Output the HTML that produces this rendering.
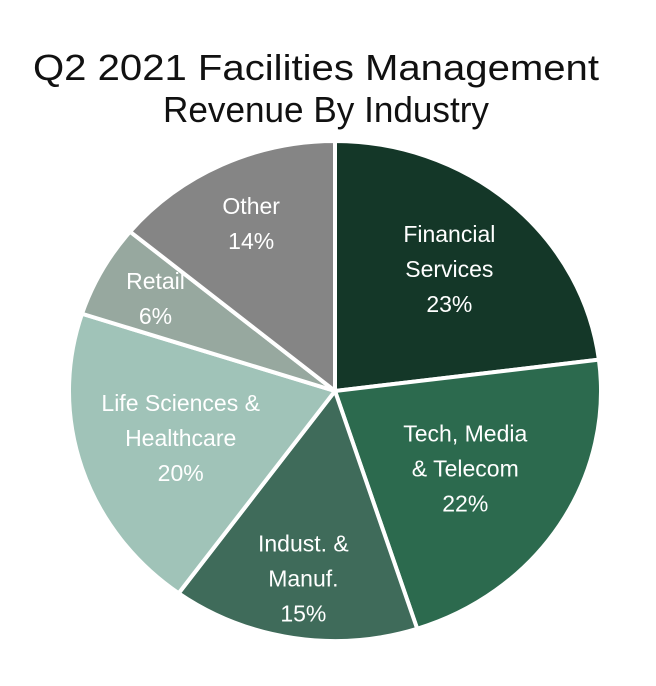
<!DOCTYPE html>
<html><head><meta charset="utf-8"><style>
html,body{margin:0;padding:0;background:#fff;width:656px;height:686px;overflow:hidden}
svg{display:block}
text{font-family:"Liberation Sans",sans-serif}
</style></head><body>
<svg id="chart" width="656" height="686" viewBox="0 0 656 686">
<text x="316" y="80" text-anchor="middle" font-size="36" fill="#111" textLength="566" lengthAdjust="spacingAndGlyphs">Q2 2021 Facilities Management</text>
<text x="326" y="122" text-anchor="middle" font-size="36" fill="#111" textLength="326" lengthAdjust="spacingAndGlyphs">Revenue By Industry</text>
<g id="slices"></g>
<g id="labels"></g>
</svg>
<script>
const categories = ["Financial Services","Tech, Media & Telecom","Indust. & Manuf.","Life Sciences & Healthcare","Retail","Other"];
const values = [23,22,15,20,6,14];
const nameLines = [["Financial","Services"],["Tech, Media","& Telecom"],["Indust. &","Manuf."],["Life Sciences &","Healthcare"],["Retail"],["Other"]];
const colors = ["#143728","#2c6a4e","#3f6b5a","#a0c3b8","#97a89f","#858585"];
const cx=335, cy=391, rx=266, ry=250;
const labelR = [0.65,0.58,0.76,0.61,0.77,0.74];
const ns="http://www.w3.org/2000/svg";
const total = values.reduce((a,b)=>a+b,0);
const gS=document.getElementById('slices'), gL=document.getElementById('labels');
function pt(a,f){return [cx+rx*f*Math.sin(a), cy-ry*f*Math.cos(a)];}
let acc=0;
values.forEach((v,i)=>{
  const a0=acc/total*2*Math.PI; acc+=v; const a1=acc/total*2*Math.PI;
  const p0=pt(a0,1), p1=pt(a1,1);
  const path=document.createElementNS(ns,'path');
  path.setAttribute('d',`M${cx},${cy}L${p0[0]},${p0[1]}A${rx},${ry} 0 ${a1-a0>Math.PI?1:0} 1 ${p1[0]},${p1[1]}Z`);
  path.setAttribute('fill',colors[i]); path.setAttribute('stroke','#fff'); path.setAttribute('stroke-width','4');
  
  
  gS.appendChild(path);
  const am=(a0+a1)/2, lp=pt(am,labelR[i]);
  const lines=nameLines[i].concat([Math.round(v/total*100)+'%']); const lh=35;
  const t=document.createElementNS(ns,'text');
  
  
  t.setAttribute('text-anchor','middle'); t.setAttribute('fill','#fff'); t.setAttribute('font-size','23');
  lines.forEach((s,j)=>{
    const ts=document.createElementNS(ns,'tspan');
    ts.setAttribute('x',lp[0]); ts.setAttribute('y',lp[1]+(j-(lines.length-1)/2)*lh+8);
    ts.textContent=s; t.appendChild(ts);
  });
  gL.appendChild(t);
});
</script>
</body></html>
